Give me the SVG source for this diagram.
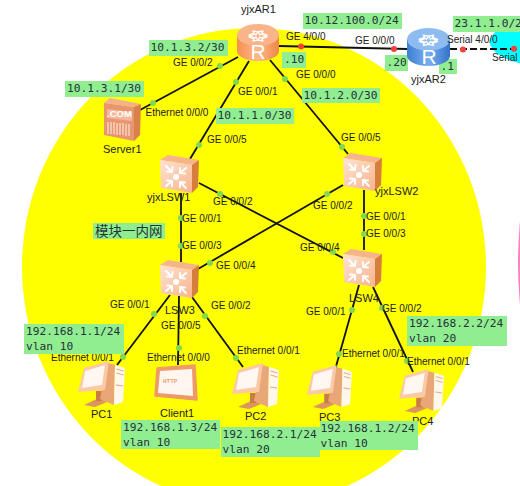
<svg xmlns="http://www.w3.org/2000/svg" xmlns:xlink="http://www.w3.org/1999/xlink" width="520" height="486" viewBox="0 0 520 486">
<style>
.lnk{stroke:#111;stroke-width:1.8;fill:none}
.dash{stroke-dasharray:7 3}
.gd{fill:#84d94f}
.rd{fill:#f8403a}
.box{fill:#90ee90}
.m{font-family:"DejaVu Sans Mono","Liberation Mono",monospace;font-size:11.2px;fill:#263238}
.p{font-family:"Liberation Sans",Arial,sans-serif;font-size:10px;fill:#222}
.n{font-family:"Liberation Sans",Arial,sans-serif;font-size:11px;fill:#222}
.cjk{font-family:"Noto Sans CJK SC",sans-serif;font-size:13.5px;fill:#263238}
.w{stroke:#fff;stroke-width:2;fill:none;stroke-linecap:round;stroke-linejoin:round}
.wt{stroke:#fff;stroke-width:1.3;fill:none;stroke-linejoin:round}
.rt{font-family:"Liberation Sans",Arial,sans-serif;font-size:21px;fill:#fff;text-anchor:middle}
</style>
<defs>
<linearGradient id="gO" x1="0" x2="1" y1="0" y2="0"><stop offset="0" stop-color="#f58f50"/><stop offset=".5" stop-color="#ffb98c"/><stop offset="1" stop-color="#ee8742"/></linearGradient>
<linearGradient id="gB" x1="0" x2="1" y1="0" y2="0"><stop offset="0" stop-color="#3d7fd2"/><stop offset=".5" stop-color="#78aef0"/><stop offset="1" stop-color="#3374c8"/></linearGradient>
<linearGradient id="gF" x1="0" x2="1" y1="0" y2="1"><stop offset="0" stop-color="#fde3d3"/><stop offset="1" stop-color="#f8b48c"/></linearGradient>
<g id="arrTop">
<path class="wt" d="M12 11l5-2-1-2 5 1-2 3-1-1-5 2zM30 11l-5-2 1-2-5 1 2 3 1-1 5 2zM12 13l5 2-1 2 5-1-2-3-1 1-5-2zM30 13l-5 2 1 2-5-1 2-3 1 1 5-2z" fill="#fff"/>
</g>
<symbol id="routerO" viewBox="0 0 42 37" overflow="visible">
<path d="M0 11v16c0 5.500 9.400 10 21 10s21-4.500 21-10V11z" fill="url(#gO)"/>
<ellipse cx="21" cy="11" rx="21" ry="11" fill="#f9b48a"/>
<use xlink:href="#arrTop"/>
</symbol>
<symbol id="routerB" viewBox="0 0 42 37" overflow="visible">
<path d="M0 11v16c0 5.500 9.400 10 21 10s21-4.500 21-10V11z" fill="url(#gB)"/>
<ellipse cx="21" cy="11" rx="21" ry="11" fill="#8fbcf0"/>
<use xlink:href="#arrTop"/>
</symbol>
<symbol id="sw" viewBox="0 0 39 38" overflow="visible">
<path d="M0 5L8 0l31 5-7 5z" fill="#f6b48c"/>
<path d="M32 10l7-5-1 27-6 6z" fill="#d67f3c"/>
<path d="M0 5l32 5v28L1 33z" fill="url(#gF)"/>
<circle cx="16" cy="22" r="3" fill="#fff"/>
<path class="w" d="M6 11l6 6M7 16.500l5 .5 .5-5M26 13l-6 5M20 13l0 5 5 .5M6 31l6-5M7 25.500l5 .5 0 5M26 33l-6-6M20 32l0-5 5 .5"/>
</symbol>
<symbol id="pc" viewBox="0 0 47 46" overflow="visible">
<path d="M6 44l15-7 8 4-12 5z" fill="#dc955f"/>
<path d="M18 30h6v10h-6z" fill="#c97c46"/>
<path d="M30 2l7 2-1 40-14-6 2-10z" fill="#e9a676"/>
<path d="M37 4l10 3-2 34-9 3z" fill="#fff6ee"/>
<path d="M38.500 8l7 2M38.500 12l7 2M38 24l7 1" stroke="#e9a676" stroke-width="1" fill="none"/>
<path d="M6 7L31 0l-4 29L0 31z" fill="#fbc9a6"/>
<path d="M7 10l20-6-3 20-20 3z" fill="#fff7f0"/>
</symbol>
</defs>

<ellipse cx="254" cy="267" rx="232" ry="239" fill="#ffff00"/>
<ellipse cx="560" cy="42" rx="70" ry="26" fill="#00ffff"/>
<ellipse cx="600" cy="263" rx="82" ry="190" fill="#ff80c0"/>

<g id="connectors">
<path class="lnk" d="M279 46L407 49"/>
<path class="lnk dash" d="M450 49L520 49"/>
<path class="lnk" d="M238 57L140 110"/>
<path class="lnk" d="M249 61L190 159"/>
<path class="lnk" d="M270 60L348 154"/>
<path class="lnk" d="M181 193L181 262"/>
<path class="lnk" d="M199 183L343 258"/>
<path class="lnk" d="M364 190L364 250"/>
<path class="lnk" d="M343 185L198 269"/>
<path class="lnk" d="M170 295L117 365"/>
<path class="lnk" d="M179 296L178 365"/>
<path class="lnk" d="M192 297L243 367"/>
<path class="lnk" d="M359 285L335 370"/>
<path class="lnk" d="M373 287L413 372"/>
</g>

<g id="backgroundLabels">
<rect class="box" x="149" y="40" width="79" height="16"/><text class="m" x="150.500" y="51">10.1.3.2/30</text>
<rect class="box" x="65" y="81" width="79" height="16"/><text class="m" x="67" y="92">10.1.3.1/30</text>
<rect class="box" x="216" y="108" width="78" height="16"/><text class="m" x="217.500" y="119">10.1.1.0/30</text>
<rect class="box" x="303" y="13" width="99" height="16"/><text class="m" x="304.500" y="24">10.12.100.0/24</text>
<rect class="box" x="282" y="52" width="24" height="16"/><text class="m" x="284" y="63">.10</text>
<rect class="box" x="385" y="55" width="23" height="16"/><text class="m" x="386.500" y="66">.20</text>
<rect class="box" x="439" y="59" width="18" height="15"/><text class="m" x="440.500" y="70">.1</text>
<rect class="box" x="453" y="16" width="67" height="16"/><text class="m" x="454.500" y="27">23.1.1.0/24</text>
<rect class="box" x="302" y="88" width="78" height="15"/><text class="m" x="303.500" y="99">10.1.2.0/30</text>
<rect class="box" x="93" y="223" width="72" height="16"/><text class="cjk" x="95" y="236">模块一内网</text>
</g>

<g id="yjxAR1"><use xlink:href="#routerO" x="237" y="24" width="42" height="37"/><text class="rt" x="258" y="59">R</text><text class="n" x="241" y="13">yjxAR1</text></g>
<g id="yjxAR2"><use xlink:href="#routerB" x="407" y="28" width="43" height="38"/><text class="rt" x="429" y="64">R</text><text class="n" x="411" y="83">yjxAR2</text></g>
<g id="Server1">
<path d="M104 103l6-5 31 6-7 3z" fill="#f4b18c"/>
<path d="M134 107l7-3-1 31-6 6z" fill="#d8814a"/>
<path d="M104 103l30 4v34l-30-6z" fill="#e99670"/>
<path d="M107 109l25 3v9l-25-3z" fill="#f6b89a"/>
<text x="107" y="117" font-family="Liberation Sans,Arial,sans-serif" font-size="9.500" font-weight="700" fill="#fff">.COM</text>
<path d="M108 122v12M111 122v12M114 122v12M117 123v12M120 123v12M123 123v12M126 124v12M129 124v12" stroke="#fbe3d6" stroke-width="1.200"/>
<text class="n" x="103" y="153">Server1</text>
</g>
<g id="yjxLSW1"><use xlink:href="#sw" x="160" y="155" width="39" height="38"/><text class="n" x="147" y="200.500">yjxLSW1</text></g>
<g id="yjxLSW2"><use xlink:href="#sw" x="343" y="153" width="39" height="38"/><text class="n" x="375" y="195">yjxLSW2</text></g>
<g id="LSW3"><use xlink:href="#sw" x="160" y="260" width="39" height="38"/><text class="n" x="165" y="314">LSW3</text></g>
<g id="LSW4"><use xlink:href="#sw" x="343" y="249" width="39" height="38"/><text class="n" x="349" y="302">LSW4</text></g>
<g id="PC1"><use xlink:href="#pc" x="78" y="361" width="47" height="46"/><text class="n" x="91" y="418">PC1</text></g>
<g id="Client1">
<path d="M157 368l38-3 2 35-42-4z" fill="#ee9a68" stroke="#ee9a68" stroke-width="1.500" stroke-linejoin="round"/>
<path d="M160 371l32-2 1 27-35-3z" fill="#fff6f0"/>
<text x="163" y="383" font-family="Liberation Mono,monospace" font-size="6px" font-weight="700" fill="#f0a070">HTTP</text>
<text class="n" x="160" y="417">Client1</text>
</g>
<g id="PC2"><use xlink:href="#pc" x="232" y="363" width="47" height="46"/><text class="n" x="245" y="420">PC2</text></g>
<g id="PC3"><use xlink:href="#pc" x="306" y="365" width="47" height="44"/><text class="n" x="319" y="421">PC3</text></g>
<g id="PC4"><use xlink:href="#pc" x="398" y="369" width="47" height="44"/><text class="n" x="412" y="425">PC4</text></g>

<g id="ports">
<circle class="rd" cx="301" cy="46.500" r="3"/><circle class="rd" cx="394" cy="49" r="3"/><circle class="rd" cx="463" cy="49.500" r="3"/><circle class="rd" cx="514" cy="48.700" r="3"/>
<circle class="gd" cx="220" cy="66" r="3"/><circle class="gd" cx="153" cy="103" r="3"/>
<circle class="gd" cx="236" cy="82" r="3"/><circle class="gd" cx="199" cy="145" r="3"/>
<circle class="gd" cx="285" cy="79" r="3"/><circle class="gd" cx="342" cy="147" r="3"/>
<circle class="gd" cx="181" cy="218" r="3"/><circle class="gd" cx="181" cy="246" r="3"/>
<circle class="gd" cx="220" cy="194" r="3"/><circle class="gd" cx="333" cy="252" r="3"/>
<circle class="gd" cx="364" cy="216" r="3"/><circle class="gd" cx="364" cy="234" r="3"/>
<circle class="gd" cx="327" cy="194" r="3"/><circle class="gd" cx="210" cy="263" r="3"/>
<circle class="gd" cx="154" cy="314" r="3"/><circle class="gd" cx="123" cy="357" r="3"/>
<circle class="gd" cx="179" cy="348" r="3"/>
<circle class="gd" cx="205" cy="316" r="3"/><circle class="gd" cx="236" cy="358" r="3"/>
<circle class="gd" cx="352" cy="310" r="3"/><circle class="gd" cx="339" cy="354" r="3"/>
<circle class="gd" cx="382" cy="308" r="3"/><circle class="gd" cx="407" cy="361" r="3"/>
</g>

<g id="portLabels">
<text class="p" x="173" y="66">GE 0/0/2</text>
<text class="p" x="145.500" y="116">Ethernet 0/0/0</text>
<text class="p" x="286" y="40">GE 4/0/0</text>
<text class="p" x="355" y="43.500">GE 0/0/0</text>
<text class="p" x="447" y="43">Serial 4/0/0</text>
<text class="p" x="492" y="61">Serial</text>
<text class="p" x="296" y="77.500">GE 0/0/0</text>
<text class="p" x="238" y="95">GE 0/0/1</text>
<text class="p" x="207" y="143">GE 0/0/5</text>
<text class="p" x="341" y="140.500">GE 0/0/5</text>
<text class="p" x="213" y="205">GE 0/0/2</text>
<text class="p" x="182" y="222">GE 0/0/1</text>
<text class="p" x="182" y="249">GE 0/0/3</text>
<text class="p" x="216" y="269">GE 0/0/4</text>
<text class="p" x="110" y="308">GE 0/0/1</text>
<text class="p" x="211" y="309">GE 0/0/2</text>
<text class="p" x="313" y="209">GE 0/0/2</text>
<text class="p" x="366" y="220">GE 0/0/1</text>
<text class="p" x="366" y="237">GE 0/0/3</text>
<text class="p" x="300" y="251">GE 0/0/4</text>
<text class="p" x="306" y="315">GE 0/0/1</text>
<text class="p" x="382" y="312">GE 0/0/2</text>
<text class="p" x="161" y="329">GE 0/0/5</text>
<text class="p" x="51" y="361">Ethernet 0/0/1</text>
<text class="p" x="147" y="361">Ethernet 0/0/0</text>
<text class="p" x="237" y="354">Ethernet 0/0/1</text>
<text class="p" x="342" y="357">Ethernet 0/0/1</text>
<text class="p" x="407" y="365">Ethernet 0/0/1</text>
</g>

<g id="ipLabels">
<rect class="box" x="24" y="324" width="100" height="30"/><text class="m" x="26" y="335">192.168.1.1/24<tspan x="26" y="349.500">vlan 10</tspan></text>
<rect class="box" x="121" y="420" width="99" height="29"/><text class="m" x="123" y="431">192.168.1.3/24<tspan x="123" y="445.500">vlan 10</tspan></text>
<rect class="box" x="221" y="427" width="99" height="30"/><text class="m" x="222.500" y="438">192.168.2.1/24<tspan x="222.500" y="452.500">vlan 20</tspan></text>
<rect class="box" x="320" y="421" width="98" height="29"/><text class="m" x="320.500" y="432">192.168.1.2/24<tspan x="320.500" y="446.500">vlan 10</tspan></text>
<rect class="box" x="407" y="316" width="100" height="30"/><text class="m" x="409" y="327">192.168.2.2/24<tspan x="409" y="341.500">vlan 20</tspan></text>
</g>
</svg>
